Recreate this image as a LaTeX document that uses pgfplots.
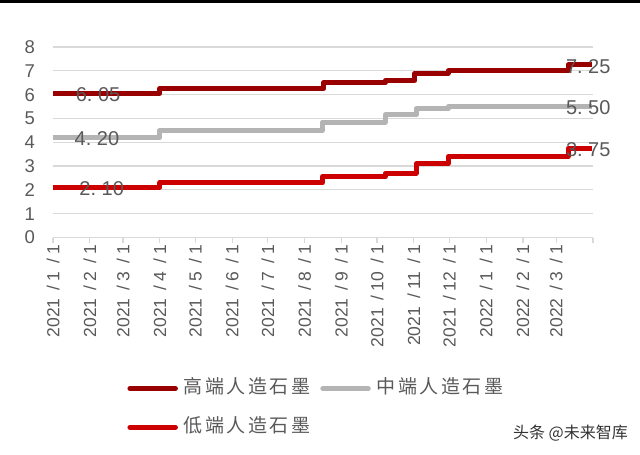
\documentclass[border=0pt]{standalone}
\usepackage{fontspec}
\setmainfont{Liberation Sans}
\newfontfamily\cjk{Noto Sans CJK SC}
\newfontfamily\cjkleg[LetterSpace=13]{Noto Sans CJK SC}
\usepackage{pgfplots}
\pgfplotsset{compat=1.18}
\definecolor{hi}{RGB}{153,0,0}
\definecolor{mid}{RGB}{180,180,180}
\definecolor{lo}{RGB}{204,0,0}
\definecolor{txt}{RGB}{89,89,89}
\definecolor{grd}{RGB}{217,217,217}
\newcommand\ds{\hspace{8pt}/\hspace{4pt}}
\begin{document}
\begin{tikzpicture}
\useasboundingbox (-53pt,-217.5pt) rectangle (587pt,237.5pt);
\fill[black] (-53pt,234.5pt) rectangle (587pt,237.5pt);
\begin{axis}[
  at={(0pt,0pt)}, anchor=south west,
  scale only axis, width=540pt, height=190.5pt,
  xmin=0, xmax=455, ymin=0, ymax=8,
  clip=false,
  axis x line*=bottom, axis y line*=left,
  x axis line style={grd, line width=1.2pt, -},
  y axis line style={draw=none, -},
  ytick={0,1,...,8},
  ymajorgrids, major grid style={grd, line width=1.2pt},
  y tick style={draw=none},
  xtick={0,31,59,90,120,151,181,212,243,273,304,334,365,396,424,455},
  xticklabels={2021\ds1\ds1,2021\ds2\ds1,2021\ds3\ds1,2021\ds4\ds1,2021\ds5\ds1,2021\ds6\ds1,2021\ds7\ds1,2021\ds8\ds1,2021\ds9\ds1,2021\ds10\ds1,2021\ds11\ds1,2021\ds12\ds1,2022\ds1\ds1,2022\ds2\ds1,2022\ds3\ds1,{}},
  x tick style={grd, line width=1.2pt},
  tick align=outside, major tick length=5pt,
  xticklabel style={yshift=-2.5pt, rotate=90, anchor=east, inner sep=0pt, font=\fontsize{17.5pt}{20pt}\selectfont, text=txt},
  yticklabel style={anchor=east, inner sep=0pt, xshift=-13pt, font=\fontsize{18.5pt}{22pt}\selectfont, text=txt},
  /pgf/number format/assume math mode=true,
  legend columns=2,
  legend cell align=left,
  legend image code/.code={\draw[#1, line cap=round] (0pt,0pt) -- (45.5pt,0pt);},
  legend style={at={(0.1375,-0.745)}, anchor=north west, draw=none, fill=none, inner sep=0pt,
    font=\cjkleg\fontsize{19pt}{22pt}\selectfont, text=txt,
    nodes={inner sep=0pt, text height=14pt, text depth=4pt},
    row sep=20.7pt,
    /tikz/every odd column/.append style={column sep=6pt},
    /tikz/every even column/.append style={column sep=10pt}},
]
\addplot[hi, line width=5pt, const plot, line join=round] coordinates {
(0,6.05) (90,6.25) (228,6.5) (280,6.6) (305,6.9) (333,7.0) (434,7.25) (454,7.25)};
\addlegendentry{高端人造石墨}
\addplot[mid, line width=5pt, const plot, line join=round] coordinates {
(0,4.2) (90,4.5) (227,4.85) (280,5.15) (306,5.4) (333,5.5) (454,5.5)};
\addlegendentry{中端人造石墨}
\addplot[lo, line width=5pt, const plot, line join=round] coordinates {
(0,2.1) (90,2.3) (227,2.55) (280,2.7) (306,3.1) (333,3.4) (434,3.75) (454,3.75)};
\addlegendentry{低端人造石墨}
\begin{scope}[every node/.style={font=\fontsize{20pt}{24pt}\selectfont, text=txt, inner sep=0pt, yshift=-1.5pt}]
\node at (axis cs:38,6.05) {6.\ 05};
\node at (axis cs:37,4.2) {4.\ 20};
\node at (axis cs:41,2.1) {2.\ 10};
\node at (axis cs:451,7.25) {7.\ 25};
\node at (axis cs:451,5.5) {5.\ 50};
\node at (axis cs:451,3.75) {3.\ 75};
\end{scope}
\end{axis}
\node[font=\cjk\fontsize{16pt}{19pt}\selectfont, text={rgb,255:red,51;green,51;blue,51}] at (517.5pt,-195.5pt) {头条 @未来智库};
\end{tikzpicture}
\end{document}
